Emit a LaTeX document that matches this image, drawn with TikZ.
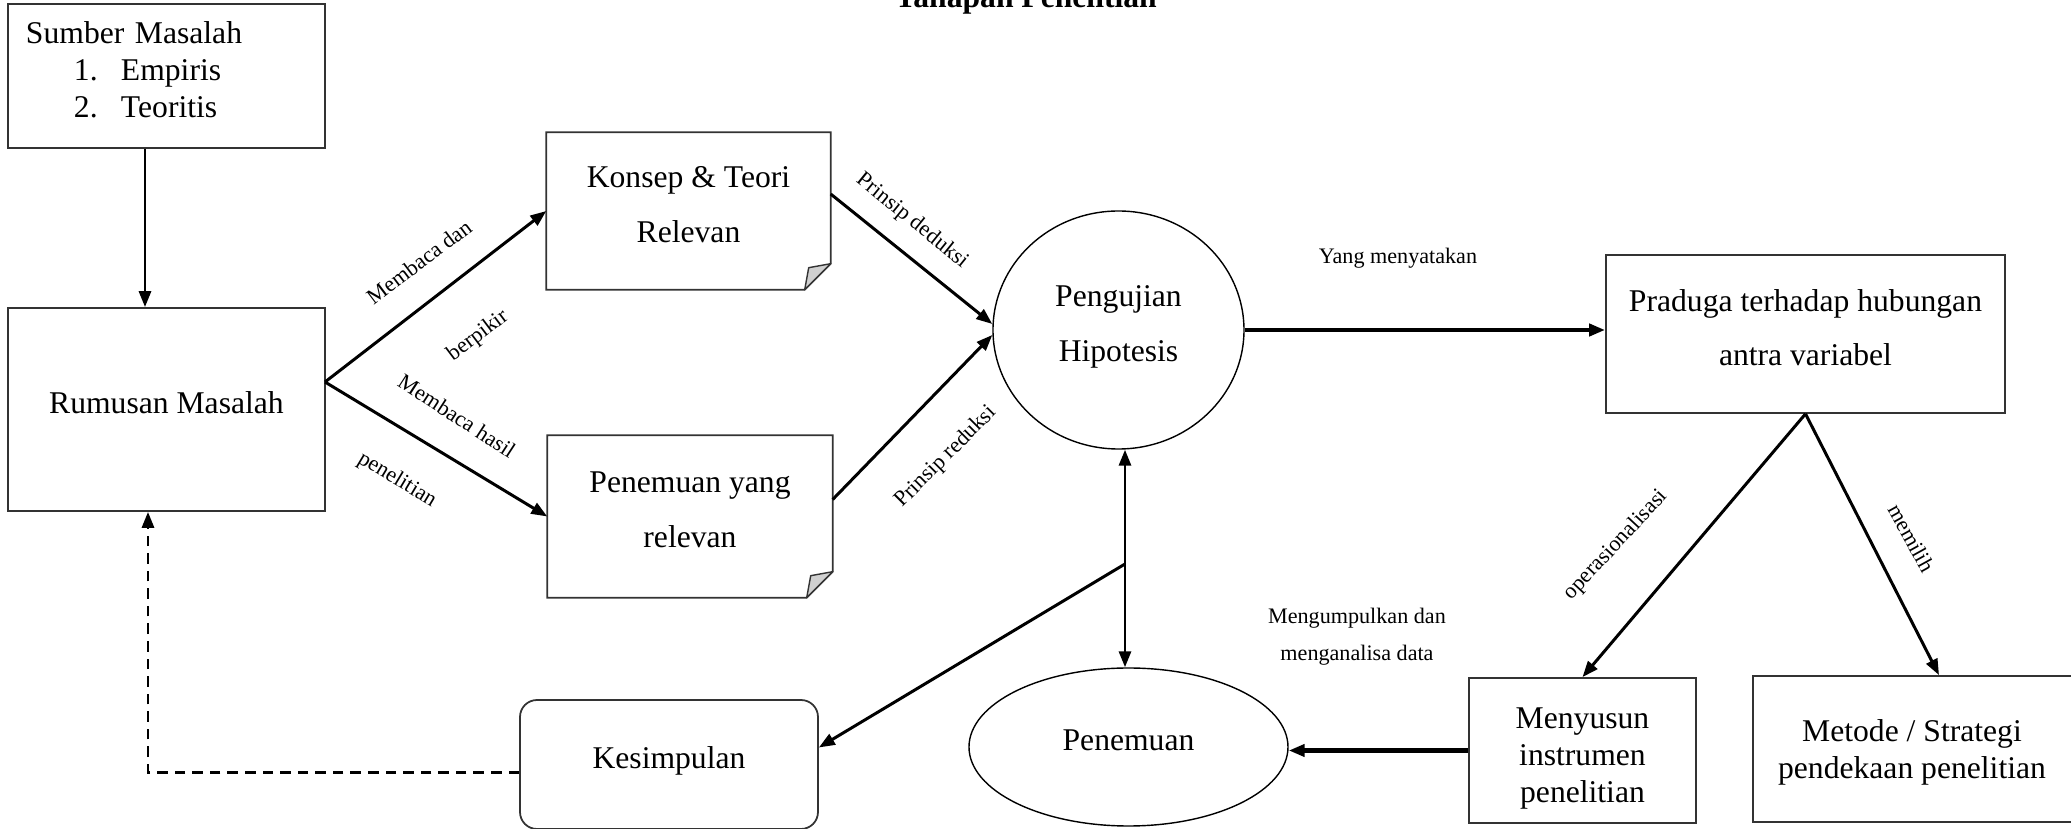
\documentclass[tikz,border=0pt]{standalone}
\usepackage{fontspec}
\setmainfont{Liberation Serif}
\usepackage{tikz}
\usetikzlibrary{calc,arrows.meta,shapes.geometric}
\definecolor{ink}{HTML}{000000}
\definecolor{edge}{HTML}{333333}
\definecolor{foldgray}{HTML}{D0D0D0}
\tikzset{
  box/.style={draw=edge, line width=0.5pt, inner sep=0pt, align=center, text depth=3.8pt, font=\fontsize{9}{15.5}\selectfont},
  plain/.style={inner sep=0pt, align=center, text depth=3.8pt, font=\fontsize{9}{15.5}\selectfont},
  tight/.style={text depth=0pt, font=\fontsize{9}{10.5}\selectfont},
  oval/.style={ellipse, draw=ink, line width=0.4pt, inner sep=0pt, align=center, text depth=3.8pt, font=\fontsize{9}{15.5}\selectfont},
  outline/.style={draw=edge, line width=0.5pt},
  fold/.style={draw=edge, fill=foldgray, line width=0.4pt, line join=round},
  arr/.style={draw=ink, line width=0.85pt, -{Triangle[length=0.16cm,width=0.12cm]}},
  arrthick/.style={arr, line width=1.15pt},
  lab/.style={text=ink, inner sep=0pt, font=\fontsize{6.3}{10.5}\selectfont},
  head/.style={text=ink, inner sep=0pt, font=\fontsize{9}{11}\selectfont\bfseries},
}
\begin{document}
\begin{tikzpicture}
  \useasboundingbox (0,0) rectangle (20.71,-8.29);
  % title, cut by the top edge
  \node[head, anchor=base] (ttl) at (10.26,-0.08) {Tahapan Penelitian};

  % left column
  \node[box, tight, text depth={}, minimum width=3.17cm, minimum height=1.44cm, text width=2.81cm, align=left] (src) at (1.665,-0.76)
    {Sumber Masalah\\\hspace*{0.48cm}\makebox[0.47cm][l]{1.}Empiris\\\hspace*{0.48cm}\makebox[0.47cm][l]{2.}Teoritis\rule[-3.6pt]{0pt}{0pt}};
  \node[box, minimum width=3.17cm, minimum height=2.03cm] (rum) at (1.665,-4.095) {Rumusan Masalah};

  % the two sources, boxes with a turned corner
  \node[plain, minimum width=2.83cm, minimum height=1.56cm] (konsep) at (6.885,-2.11) {Konsep \& Teori\\Relevan};
  \node[plain, minimum width=2.84cm, minimum height=1.61cm] (penrel) at (6.90,-5.165) {Penemuan yang\\relevan};
  \draw[outline] (konsep.north west) -- (konsep.north east) -- ([yshift=0.26cm]konsep.south east)
    -- ([xshift=-0.26cm]konsep.south east) -- (konsep.south west) -- cycle;
  \draw[fold] ([yshift=0.26cm]konsep.south east) -- ([xshift=-0.22cm,yshift=0.22cm]konsep.south east)
    -- ([xshift=-0.26cm]konsep.south east) -- cycle;
  \draw[outline] (penrel.north west) -- (penrel.north east) -- ([yshift=0.26cm]penrel.south east)
    -- ([xshift=-0.26cm]penrel.south east) -- (penrel.south west) -- cycle;
  \draw[fold] ([yshift=0.26cm]penrel.south east) -- ([xshift=-0.22cm,yshift=0.22cm]penrel.south east)
    -- ([xshift=-0.26cm]penrel.south east) -- cycle;

  % middle
  \node[oval, minimum width=2.51cm, minimum height=2.38cm] (uji) at (11.185,-3.30) {Pengujian\\Hipotesis};
  \node[oval, minimum width=3.19cm, minimum height=1.58cm] (penemuan) at (11.285,-7.47) {Penemuan};
  \node[box, rounded corners=0.17cm, minimum width=2.98cm, minimum height=1.29cm] (kes) at (6.69,-7.645) {Kesimpulan};

  % right side
  \node[box, minimum width=3.99cm, minimum height=1.58cm] (praduga) at (18.055,-3.34) {Praduga terhadap hubungan\\antra variabel};
  \node[box, tight, minimum width=2.27cm, minimum height=1.45cm] (menyusun) at (15.825,-7.505) {\rule{0pt}{8.5pt}Menyusun\\instrumen\\penelitian};
  \node[box, tight, minimum width=3.40cm, minimum height=1.46cm] (metode) at (19.23,-7.49)
    {Metode / Strategi\hspace*{0.22cm}\\pendekaan penelitian\hspace*{0.22cm}};

  % labels
  \node[lab, rotate=37] (l1) at (4.19,-2.62) {Membaca dan};
  \node[lab, rotate=37] (l2) at (4.78,-3.36) {berpikir};
  \node[lab, rotate=-33] (l3) at (4.57,-4.16) {Membaca hasil};
  \node[lab, rotate=-31] (l4) at (3.97,-4.80) {penelitian};
  \node[lab, rotate=-39] (l5) at (9.12,-2.21) {Prinsip deduksi};
  \node[lab, rotate=45] (l6) at (9.46,-4.57) {Prinsip reduksi};
  \node[lab] (l7) at (13.98,-2.58) {Yang menyatakan};
  \node[lab, rotate=47] (l8) at (16.16,-5.45) {operasionalisasi};
  \node[lab, rotate=-61] (l9) at (19.12,-5.38) {memilih};
  \node[lab, align=center] (l10) at (13.57,-6.37) {Mengumpulkan dan\\menganalisa data};

  % connectors
  \coordinate (fork) at (3.25,-3.82);
  \coordinate (tap) at (11.25,-5.64);
  \coordinate (upx) at (1.45,0);
  \coordinate (backx) at (1.48,0);
  \draw[arr] (src.south -| upx) -- (rum.north -| upx);
  \draw[arr] (fork) -- (konsep.west);
  \draw[arr] (fork) -- (penrel.west);
  \draw[arr] ([yshift=0.17cm]konsep.east) -- ([yshift=0.06cm]uji.west);
  \draw[arr] ([yshift=0.17cm]penrel.east) -- ([yshift=-0.05cm]uji.west);
  \draw[arrthick] (uji.east) -- (uji.east -| praduga.west);
  \draw[arr] (praduga.south) -- (menyusun.north);
  \draw[arr] (praduga.south) -- ([xshift=0.16cm]metode.north);
  \draw[arrthick] (menyusun.west) -- (menyusun.west -| penemuan.east);
  \draw[arr, {Triangle[length=0.16cm,width=0.12cm]}-{Triangle[length=0.16cm,width=0.12cm]}] (uji.south -| tap) -- (penemuan.north -| tap);
  \draw[arr] (tap) -- ([yshift=0.17cm]kes.east);
  \draw[arr, dash pattern=on 3pt off 2pt] ([yshift=-0.08cm]kes.west) -| (rum.south -| backx);
\end{tikzpicture}
\end{document}
